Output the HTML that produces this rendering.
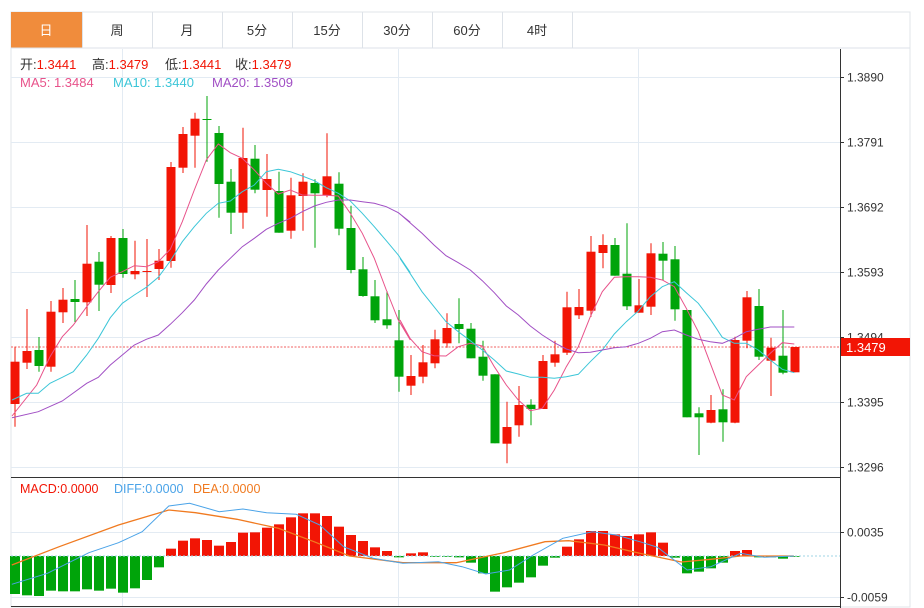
<!DOCTYPE html>
<html><head><meta charset="utf-8"><style>
body{margin:0;background:#fff;width:924px;height:608px;overflow:hidden;font-family:"Liberation Sans","Noto Sans CJK SC",sans-serif;}
svg{position:absolute;left:0;top:0}
</style></head><body>
<svg id="s" width="924" height="608" xmlns="http://www.w3.org/2000/svg" font-family="Liberation Sans, Noto Sans CJK SC, sans-serif">
<rect x="11" y="12" width="899" height="595" fill="#fff" stroke="#e0e4ea"/>
<rect x="11" y="12" width="71" height="36" fill="#f08c3c"/>
<line x1="11" y1="48" x2="910" y2="48" stroke="#dde2e8"/>
<g stroke="#dde2e8">
<line x1="82.5" y1="12" x2="82.5" y2="48"/><line x1="152.5" y1="12" x2="152.5" y2="48"/><line x1="222.5" y1="12" x2="222.5" y2="48"/><line x1="292.5" y1="12" x2="292.5" y2="48"/><line x1="362.5" y1="12" x2="362.5" y2="48"/><line x1="432.5" y1="12" x2="432.5" y2="48"/><line x1="502.5" y1="12" x2="502.5" y2="48"/><line x1="572.5" y1="12" x2="572.5" y2="48"/>
</g>
<g font-size="13" text-anchor="middle" fill="#333">
<text x="46" y="35" fill="#fff">日</text><text x="117" y="35">周</text><text x="187" y="35">月</text><text x="257" y="35">5分</text><text x="327" y="35">15分</text><text x="397" y="35">30分</text><text x="467" y="35">60分</text><text x="537" y="35">4时</text>
</g>
<g id="grid" stroke="#e3ebf3"></g>
<g id="plot"></g>
<line x1="840.5" y1="49" x2="840.5" y2="608" stroke="#333"/>
<line x1="11" y1="477.5" x2="840" y2="477.5" stroke="#333"/>
<line x1="11" y1="606.5" x2="840" y2="606.5" stroke="#333"/>
<g font-size="12" fill="#333" id="ax"></g>
<rect x="841" y="338" width="69" height="18" fill="#f21505"/>
<text x="846" y="352" font-size="13" fill="#fff">1.3479</text>
<g font-size="13">
<text x="20" y="69" fill="#333">开:<tspan fill="#f21505">1.3441</tspan></text>
<text x="92" y="69" fill="#333">高:<tspan fill="#f21505">1.3479</tspan></text>
<text x="165" y="69" fill="#333">低:<tspan fill="#f21505">1.3441</tspan></text>
<text x="235" y="69" fill="#333">收:<tspan fill="#f21505">1.3479</tspan></text>
<text x="20" y="87" fill="#e8528a">MA5: 1.3484</text>
<text x="113" y="87" fill="#3cc6d8">MA10: 1.3440</text>
<text x="212" y="87" fill="#a14fc4">MA20: 1.3509</text>
<text x="20" y="493" fill="#f21505" font-size="12.5">MACD:0.0000</text>
<text x="114" y="493" fill="#4aa3e8" font-size="12.5">DIFF:0.0000</text>
<text x="193" y="493" fill="#f07a20" font-size="12.5">DEA:0.0000</text>
</g>
</svg>
<script>
const NS="http://www.w3.org/2000/svg";
function el(p,t,a){const e=document.createElementNS(NS,t);for(const k in a)e.setAttribute(k,a[k]);p.appendChild(e);return e;}
const G=document.getElementById('grid'),P=document.getElementById('plot'),AX=document.getElementById('ax');
const labs=["1.3890","1.3791","1.3692","1.3593","1.3494","1.3395","1.3296"];
labs.forEach((l,i)=>{const y=77+i*65+.5;el(G,'line',{x1:11,y1:y,x2:840,y2:y});el(AX,'line',{x1:840,y1:y,x2:844,y2:y,stroke:'#333'});const t=el(AX,'text',{x:847,y:y+4});t.textContent=l;});
[[532.5,"0.0035"],[597.5,"-0.0059"]].forEach(([y,l])=>{el(G,'line',{x1:11,y1:y,x2:840,y2:y});el(AX,'line',{x1:840,y1:y,x2:844,y2:y,stroke:'#333'});const t=el(AX,'text',{x:847,y:y+4});t.textContent=l;});
[122.5,398.5,638.5].forEach(x=>{el(G,'line',{x1:x,y1:49,x2:x,y2:607});});
const C=[[361.7,404,346.7,426.7,1],[351,362.7,309,369,1],[350,366,337,371.7,0],[311.7,366.7,301,371.7,1],[299.7,312.3,288,323,1],[299,302,280,322,0],[263.7,302.3,225,316,1],[261.7,284.7,252,311,0],[238,285,236,293,1],[238,274,229,277.7,0],[271,274.3,240.7,279.3,1],[271,272,239,297,1],[260.7,269,249,280,1],[167,261,162,267.7,1],[134,167.7,127,173,1],[118.7,135.7,112.7,167.7,1],[119,120,96,161.7,0],[133,184,126,217.7,0],[181.7,212.7,169,234,0],[158,212.7,127.7,228.7,1],[158.7,189.7,145,193.3,0],[179,190,154,216.7,1],[191,232.7,171.7,232.7,0],[195.3,230.7,177.7,238.7,1],[181.7,196,173.3,230.7,1],[183,193.3,179.3,247.7,0],[176.3,195.3,133.3,197.3,1],[183.7,228.7,172.3,235.3,0],[228,270,205.7,273.3,0],[269.3,296,257,296.7,0],[296.3,320.3,280,323,0],[319.3,325.3,291,328.7,0],[340.3,376.7,310,391.7,0],[376,385.7,355,395,1],[362.3,376.7,345,383.3,1],[339.3,363.3,329.7,368.3,1],[328,343.3,313.3,347.7,1],[324,329,298.3,343.3,0],[328.7,358.3,323,358.3,0],[356.7,375.7,340.7,380.7,0],[374.3,443.3,374.3,443.3,0],[427,443.7,401.7,463.3,1],[405,425.3,386,436.7,1],[404.7,409,399.3,425.3,0],[361,409,355,409,1],[354.3,362.7,340.7,366.7,1],[307.3,352.7,291.7,355,1],[307,315.3,289,319,1],[251.7,310.7,236,316.7,1],[245,253,234.3,268.3,1],[245,275.7,238,275.7,0],[273.7,306.3,223.3,310,0],[305.3,312.7,279,312.7,1],[253.3,306.7,243.3,315,1],[253.7,260.7,242,280,0],[259.3,309.3,246,320.7,0],[310,417.3,310,417.3,0],[413.3,417.3,407.3,455,0],[410,422.7,395,423.3,1],[409.3,422.3,389.3,441.7,0],[340,422.7,336.7,423.3,1],[297.3,340.7,291,348.3,1],[306,356.7,289,360,0],[347.7,360.7,337.7,396,1],[355.7,372.7,310,374.3,0],[347,372.3,347,372.3,1]];
const R="#f21505",Gr="#00a40a";
const H=[372,376,378,362,364,364,358,362,356,368,355,330,292,236,212,205,210,227,216,188,187,173,163,142,130,130,138,170,195,213,232,243,262,250,247,259,260,262,278,310,365,352,338,322,287,263,230,208,183,183,193,198,193,187,218,263,310,305,295,278,243,240,262,262,266,258];
H.forEach((h,i)=>{const x=15+12*i;const y=470+h/3,z=556;const up=h<258;el(P,'rect',{x:x-5,y:Math.min(y,z),width:10,height:Math.max(Math.abs(y-z),0.8),fill:up?R:Gr});});
el(P,'line',{x1:11,y1:556,x2:840,y2:556,stroke:'#9fd4e6','stroke-dasharray':'2,2'});
function pl(pts,fx,fy,col,w){el(P,'polyline',{points:pts.map(p=>fx(p[0]).toFixed(1)+','+fy(p[1]).toFixed(1)).join(' '),fill:'none',stroke:col,'stroke-width':w||1});}
const mx=x=>x/1.688,my=y=>470+y/3;
pl([[20,285],[100,230],[200,165],[285,120],[330,128],[400,148],[470,175],[530,215],[590,258],[680,278],[770,278],[850,248],[920,215],[960,212],[1020,225],[1080,250],[1150,276],[1200,268],[1250,258],[1340,258]],mx,my,'#f07a20',1.3);
pl([[20,343],[80,310],[150,248],[200,218],[240,185],[285,108],[320,100],[370,125],[410,117],[450,128],[500,133],[540,165],[580,230],[630,265],[680,280],[740,275],[780,290],[820,312],[860,300],[900,255],[950,205],[1000,185],[1040,195],[1080,215],[1110,232],[1160,300],[1200,290],[1250,250],[1290,262],[1340,258]],mx,my,'#4aa3e8',1);
el(P,'line',{x1:11,y1:347,x2:840,y2:347,stroke:'#f06060','stroke-dasharray':'2,1.5','stroke-width':1});
C.forEach((c,i)=>{const x=15+12*i,col=c[4]?R:Gr;el(P,'line',{x1:x,y1:c[2],x2:x,y2:c[3],stroke:col,'stroke-width':1});el(P,'rect',{x:x-4.5,y:c[0],width:9,height:Math.max(c[1]-c[0],1),fill:col});});
const zx=x=>x/3,zy=y=>90+y/3,zx3=x=>400+x/3;
function two(a,b,col){const pts=a.map(p=>[zx(p[0]),zy(p[1])]).concat(b.map(p=>[zx3(p[0]),zy(p[1])]));pl(pts,x=>x,y=>y,col,1);}
two([[36,978],[110,885],[150,800],[187,740],[220,705],[260,650],[295,605],[331,562],[367,545],[403,527],[439,530],[475,515],[511,478],[547,395],[583,300],[619,210],[655,162],[691,188],[727,205],[763,240],[799,280],[835,312],[871,300],[907,315],[943,316],[979,316],[1015,318],[1051,370],[1087,430],[1123,505],[1159,600],[1195,690],[1231,750]],
[[0,690],[30,745],[66,785],[102,797],[138,798],[175,770],[211,760],[247,768],[283,830],[319,885],[355,930],[391,962],[427,955],[463,900],[499,830],[535,770],[571,680],[607,605],[643,562],[679,560],[715,560],[751,562],[787,570],[823,590],[859,655],[895,725],[931,820],[967,915],[1003,930],[1039,860],[1075,825],[1111,790],[1147,758],[1183,762]],'#e8528a');
two([[36,930],[80,910],[115,910],[150,880],[187,862],[220,845],[260,795],[295,745],[331,683],[367,640],[403,615],[439,592],[475,562],[511,513],[547,455],[583,410],[619,370],[655,340],[691,333],[727,305],[763,285],[799,245],[835,238],[871,245],[907,258],[943,272],[979,293],[1015,310],[1051,333],[1087,370],[1123,410],[1159,452],[1195,495],[1231,548]],
[[0,505],[30,550],[66,605],[102,650],[138,695],[175,725],[211,752],[247,780],[283,810],[319,843],[355,852],[391,862],[427,862],[463,865],[499,860],[535,853],[571,815],[607,780],[643,732],[679,695],[715,663],[751,620],[787,590],[823,575],[859,608],[895,640],[931,688],[967,742],[1003,760],[1039,760],[1075,780],[1111,810],[1147,838],[1183,848]],'#3cc6d8');
two([[36,983],[115,965],[187,933],[260,880],[295,862],[331,825],[367,795],[403,765],[439,748],[475,735],[511,703],[547,668],[583,630],[619,582],[655,540],[691,505],[727,470],[763,445],[799,418],[835,400],[871,385],[907,365],[943,348],[979,337],[1015,330],[1051,330],[1087,335],[1123,340],[1159,350],[1195,368],[1231,397]],
[[0,372],[30,398],[66,430],[102,465],[138,497],[175,518],[211,540],[247,572],[283,608],[319,648],[355,675],[391,708],[427,735],[463,758],[499,777],[535,788],[571,787],[607,780],[643,773],[679,770],[715,760],[751,745],[787,725],[823,720],[859,735],[895,748],[931,755],[967,760],[1003,745],[1039,725],[1075,718],[1111,711],[1147,711],[1183,711]],'#a14fc4');
</script>
</body></html>
